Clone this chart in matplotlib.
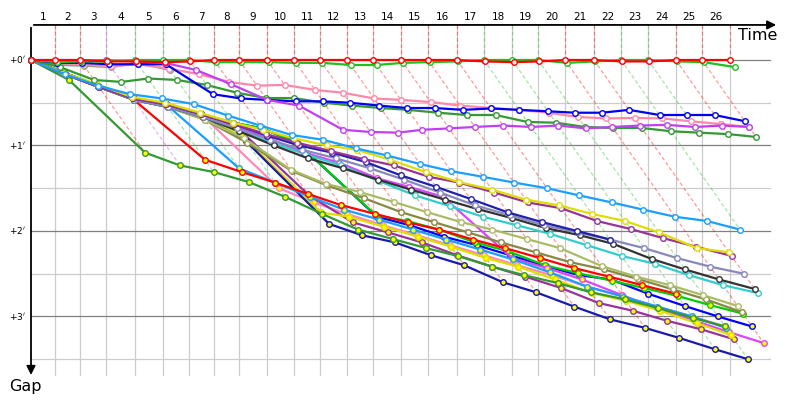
import matplotlib
matplotlib.use("Agg")
import matplotlib.pyplot as plt

# leader's elapsed time (s) at the end of each lap
lap_times = [24, 49, 75, 104, 132, 158, 183, 208, 236, 263, 289, 316, 342,
             370, 397, 426, 453, 481, 507, 534, 563, 590, 617, 645, 671, 699]

# gap to the leader (s) at the end of each lap, one list per kart
gap_red = [0, 0, 1, 1, 1.5, 1, 0, 0, 0, 0, 0, 0, 0, 0, 0, 0, 1, 1.5, 1, 0, 0, 1, 1, 0, 0, 0]
gap_green = [1.5, 1, 1, 0, 0, 0, 1.5, 1.5, 1.5, 2, 2, 3.5, 3.5, 2, 1.5, 1, 0, 0, 0, 2, 1, 0, 0, 1, 1.5, 5]
gap_violet = [0.5, 0.5, 0, 1, 2, 7, 17, 28, 32, 49, 50.5, 51, 49, 48, 47, 46, 47, 46, 48, 47, 46, 45.5, 47, 46, 47]
gap_blue = [2, 2, 3, 3, 3, 24, 27, 28, 29, 29, 30, 32, 33.7, 33.7, 35, 34, 35, 36, 37, 37, 35, 38.6, 38.6, 38.6, 43]
gap_pink = [2, 3, 4.5, 3, 6, 10, 15.4, 18, 17.5, 21, 23, 27, 28, 29.5, 32, 33.7, 35, 37, 40, 41, 40.7, 41, 43, 45, 47]
gap_dkgreen = [5, 14, 15.4, 13, 14, 17.5, 23, 26.7, 26.7, 30, 32, 33.7, 35, 37, 38.6, 38.6, 43.5, 44, 47, 47.7, 47.7, 50, 51, 52, 54]
gap_gray = [3.5, 4, 5, 2, 7]

gap_dodger = [10, 18, 24, 27, 31, 39, 46, 52.6, 56, 62, 67, 73, 78, 82, 86, 90, 95, 100, 105, 110, 113, 119]
gap_yellow = [9, 17, 26, 30, 37, 44, 49, 55, 60, 63, 70, 78.6, 85.6, 91, 98, 102, 108, 113, 121, 132, 135]
gap_purple = [10, 19, 27, 31, 38, 45, 52, 58, 64, 69.5, 74, 82, 86, 93, 100, 104, 113, 118.6, 125, 131, 137.5]
gap_navy = [9, 18, 27, 31, 38, 45, 53, 60, 65, 71.6, 81, 89, 97.5, 107, 113.7, 120, 126]
gap_lavender = [10, 19, 28, 33, 40, 48, 56, 63, 69, 76, 84, 93, 102, 109, 116, 121, 126, 132, 139, 145, 150]
gap_black = [10, 19, 28, 33, 40, 50, 60, 69, 76, 84, 91, 98, 104.6, 111, 118, 123, 129, 139.6, 147, 154, 160.7]
gap_cyan = [10, 19, 28, 33, 40, 50, 58, 66, 74, 85, 95, 102.5, 110, 116, 122, 130, 137.5, 143, 151, 158, 163.5]
gap_ltolive = [10, 19, 28, 33, 42, 55, 77, 87, 92.6, 99.6, 106.7, 113.7, 119, 125.6, 132, 144.6, 152, 158, 165, 172.6]
gap_dkolive = [10, 19, 28, 33, 42, 58, 78, 88, 97, 106.7, 113.7, 121, 128, 135, 141.8, 147, 153.7, 161, 168, 177]

gap_fgreen2 = [14, 65, 74, 78.6, 85.6, 96, 108, 119, 125.6, 132, 137.5, 145, 151, 156.5, 163, 168, 174, 181, 187]
gap_red2 = [9, 18, 28, 70, 78.6, 86, 94, 101.8, 108, 114, 119, 126, 132, 139, 146, 152, 158, 164]
gap_ltblue2 = [9, 18, 27, 31, 76, 86, 96, 105, 112, 119, 126, 133, 140, 149, 159, 166, 173, 180, 188]
gap_navy2 = [9, 18, 27, 31, 40, 57, 115, 123, 128, 137, 144, 156, 163, 173, 182, 188, 195, 203, 210]
gap_yellow2 = [9, 18, 27, 31, 40, 53, 107, 110, 117, 124, 131, 139, 145, 154, 163.5, 169, 176, 184.6, 193]
gap_purple2 = [9, 18, 27, 31, 38, 46, 95, 114, 121, 128, 137, 145, 152, 160, 170.5, 176, 183, 189, 196]
gap_magenta2 = [9, 18, 27, 32, 38, 46, 55, 65, 72, 83, 89, 96, 139, 146, 154, 165, 175, 183, 191, 198.6]
gap_bgreen2 = [9, 18, 27, 32, 38, 44, 48, 58, 109, 113, 119, 128, 134, 144, 149.5, 155, 160, 165.6, 172, 178]
gap_blue2 = [9, 18, 27, 32, 38, 44, 48, 58, 110, 116, 124, 130, 137, 144.6, 151, 154, 164, 172.6, 180, 187]
gap_pink2 = [9, 18, 27, 31, 38, 90, 100, 108, 116, 123, 130, 137, 144, 151, 159, 166, 173, 180, 187]

lap_labels = [str(i + 1) for i in range(len(lap_times))]
gap_ticks = [0, 60, 120, 180]
gap_tick_labels = ["+0$^{\\prime}$", "+1$^{\\prime}$", "+2$^{\\prime}$", "+3$^{\\prime}$"]

# (gaps, line colour, lap from which markers are yellow; None = always white)
karts = [
    (gap_red, "#ff0000", None),
    (gap_green, "#1fbf1f", None),
    (gap_violet, "#c040f0", None),
    (gap_blue, "#0000ee", None),
    (gap_pink, "#ff88aa", None),
    (gap_dkgreen, "#339933", None),
    (gap_gray, "#999999", 0),
    (gap_dodger, "#1a9fff", None),
    (gap_yellow, "#dddd00", None),
    (gap_purple, "#993399", None),
    (gap_navy, "#2020aa", None),
    (gap_lavender, "#8888bb", None),
    (gap_black, "#333333", None),
    (gap_cyan, "#33cccc", None),
    (gap_ltolive, "#aabb66", None),
    (gap_dkolive, "#888844", None),
    (gap_fgreen2, "#339933", 0),
    (gap_red2, "#ff0000", 0),
    (gap_ltblue2, "#1a9fff", 0),
    (gap_navy2, "#1a1aaa", 0),
    (gap_yellow2, "#dddd00", 0),
    (gap_purple2, "#993399", 0),
    (gap_magenta2, "#dd44ff", 13),
    (gap_bgreen2, "#00cc00", 0),
    (gap_blue2, "#0000ff", 0),
    (gap_pink2, "#ff88bb", 0),
]

fig = plt.figure(figsize=(8, 4), dpi=100)
ax = fig.add_axes([0, 0, 1, 1])
ax.set_xlim(-31, 769)
ax.set_ylim(238.6, -42.1)
ax.axis("off")

g_top = -24.6
g_bot = 221

# grid
for t in lap_times:
    ax.plot([t, t], [g_top, g_bot], color="#cccccc", lw=0.9, zorder=1)
for g in [30, 90, 150, 210]:
    ax.plot([0, 739], [g, g], color="#cccccc", lw=0.9, zorder=1)
for g in gap_ticks:
    ax.plot([0, 739], [g, g], color="#808080", lw=0.9, zorder=1)

# lap diagonals, coloured by the leader of that lap
for k, t in enumerate(lap_times):
    on_lap = [(gaps[k], col) for gaps, col, _ in karts if len(gaps) > k]
    lead_col = min(on_lap, key=lambda p: p[0])[1]
    gmax = max(p[0] for p in on_lap)
    ax.plot([t, t], [g_top, 0], color=lead_col, alpha=0.4, lw=0.9,
            ls=(0, (3, 2)), zorder=2)
    ax.plot([t, t + gmax], [0, gmax], color=lead_col, alpha=0.4, lw=0.9,
            ls=(0, (3, 2)), zorder=2)

# karts, back markers first
for z, (gaps, col, yfrom) in enumerate(reversed(karts)):
    xs = [0] + [lap_times[k] + g for k, g in enumerate(gaps)]
    ys = [0] + list(gaps)
    ax.plot(xs, ys, color=col, lw=1.6, zorder=3 + z * 0.01, solid_capstyle="round")
    for k, (x, y) in enumerate(zip(xs, ys)):
        face = "#ffff00" if (yfrom is not None and k >= yfrom) else "white"
        ax.plot(x, y, "o", ms=4.0, mfc=face, mec=col, mew=1.0, zorder=3 + z * 0.01)

# axes with arrows
ax.annotate("", xy=(748, g_top), xytext=(0, g_top),
            arrowprops=dict(arrowstyle="-|>", color="black", lw=1.3, mutation_scale=13))
ax.annotate("", xy=(0, 223), xytext=(0, g_top),
            arrowprops=dict(arrowstyle="-|>", color="black", lw=1.3, mutation_scale=13))

prev = 0
for t, lab in zip(lap_times, lap_labels):
    ax.text((prev + t) / 2, -30.2, lab, ha="center", va="center", fontsize=7.5)
    prev = t

for g, lab in zip(gap_ticks, gap_tick_labels):
    ax.text(-5, g, lab, ha="right", va="center", fontsize=6.5)

ax.text(746, -17.5, "Time", ha="right", va="center", fontsize=11.5)
ax.text(-6, 229, "Gap", ha="center", va="center", fontsize=11.5)

fig.savefig("out.png", dpi=100)
